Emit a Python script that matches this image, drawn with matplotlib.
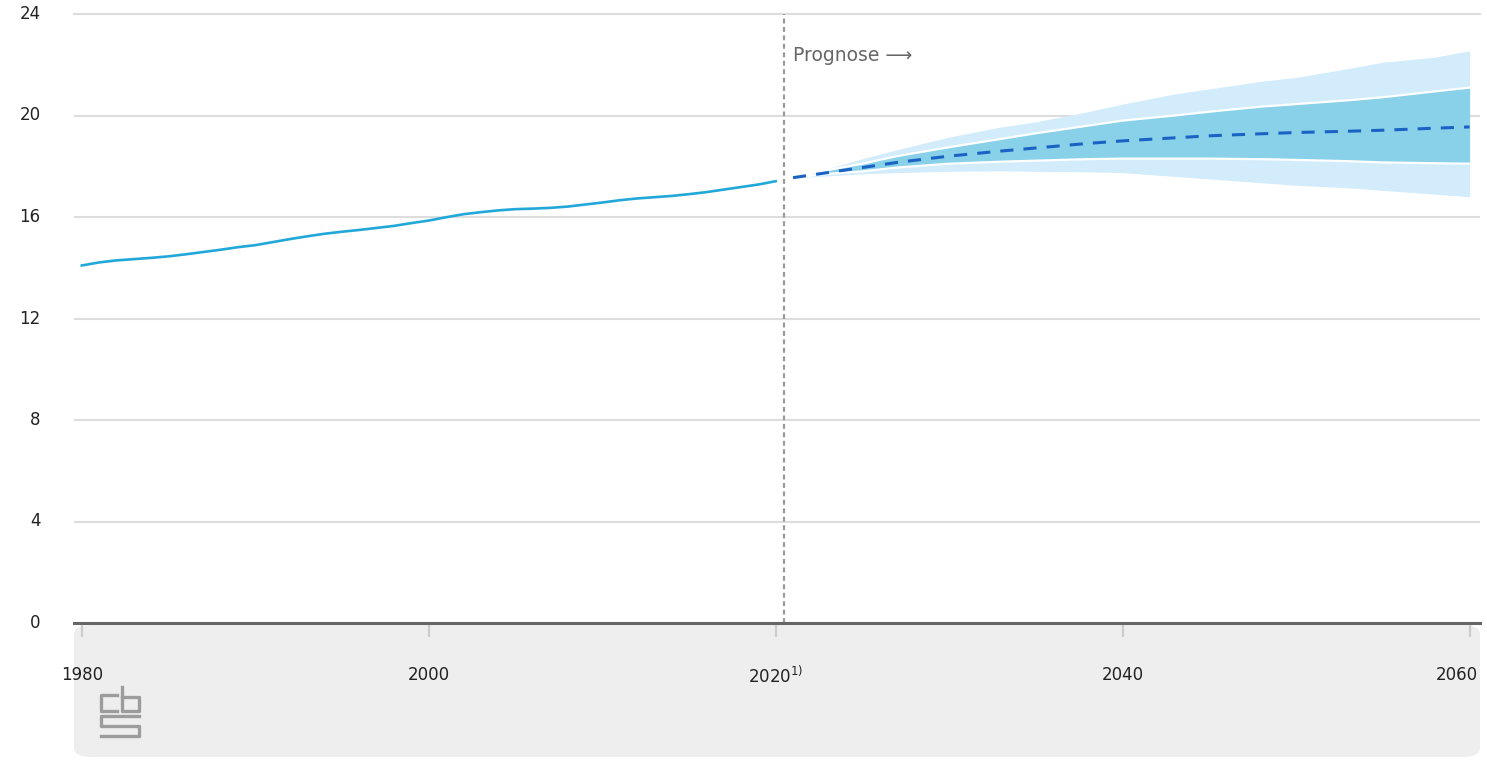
import matplotlib
matplotlib.use("Agg")
import matplotlib.pyplot as plt
from matplotlib.patches import FancyBboxPatch
from matplotlib.transforms import ScaledTranslation

# bevolking (mln), waarneming
jaren = list(range(1980, 2021))
bevolking = [14.09, 14.21, 14.29, 14.34, 14.39, 14.45, 14.53, 14.62, 14.71, 14.81,
             14.89, 15.01, 15.13, 15.24, 15.34, 15.42, 15.49, 15.57, 15.65, 15.76,
             15.86, 15.99, 16.11, 16.19, 16.26, 16.31, 16.33, 16.36, 16.41, 16.49,
             16.57, 16.66, 16.73, 16.78, 16.83, 16.90, 16.98, 17.08, 17.18, 17.28,
             17.41]

# prognose met onzekerheidsmarges
prog_jaren = [2021, 2023, 2025, 2027, 2030, 2033, 2035, 2038, 2040,
              2043, 2045, 2048, 2050, 2053, 2055, 2058, 2060]
prog_mediaan = [17.55, 17.75, 17.95, 18.15, 18.40, 18.60, 18.72, 18.90, 19.00,
                19.12, 19.20, 19.28, 19.33, 19.38, 19.42, 19.50, 19.55]
binnen_boven = [17.55, 17.85, 18.10, 18.40, 18.75, 19.08, 19.30, 19.60, 19.80,
                20.00, 20.15, 20.35, 20.45, 20.60, 20.72, 20.95, 21.10]
binnen_onder = [17.55, 17.70, 17.80, 17.95, 18.10, 18.18, 18.22, 18.28, 18.30,
                18.30, 18.30, 18.28, 18.25, 18.20, 18.15, 18.12, 18.10]
buiten_boven = [17.55, 17.90, 18.30, 18.65, 19.15, 19.55, 19.75, 20.15, 20.45,
                20.85, 21.05, 21.35, 21.50, 21.85, 22.10, 22.30, 22.55]
buiten_onder = [17.55, 17.62, 17.70, 17.75, 17.80, 17.82, 17.80, 17.78, 17.75,
                17.60, 17.50, 17.35, 17.25, 17.15, 17.05, 16.90, 16.80]

x_ticks = [1980, 2000, 2020, 2040, 2060]
x_labels = ["1980", "2000", r"2020$^{1)}$", "2040", "2060"]
y_ticks = [0, 4, 8, 12, 16, 20, 24]

W, H = 1487, 760
fig = plt.figure(figsize=(W / 100, H / 100), dpi=100)
fig.patch.set_facecolor("white")

# grijze balk onder de grafiek
bg = FancyBboxPatch((74 / W, 3 / H), (1480 - 74) / W, (760 - 625 - 3) / H,
                    boxstyle="round,pad=0,rounding_size=0.012",
                    transform=fig.transFigure, facecolor="#eeeeee",
                    edgecolor="none", zorder=-10)
fig.patches.append(bg)

ax = fig.add_axes([74 / W, 1 - 623 / H, (1480 - 74) / W, (623 - 14) / H])
ax.set_facecolor("none")

# banden
ax.fill_between(prog_jaren, buiten_onder, buiten_boven, color="#d2ecfb", lw=0, zorder=2)
ax.fill_between(prog_jaren, binnen_onder, binnen_boven, color="#89d1e9", lw=0, zorder=3)
ax.plot(prog_jaren, binnen_boven, color="white", lw=1.6, zorder=4)
ax.plot(prog_jaren, binnen_onder, color="white", lw=1.6, zorder=4)

ax.plot(prog_jaren, prog_mediaan, color="#1a63c4", lw=2.2,
        linestyle=(0, (4.3, 3.3)), zorder=5)
ax.plot(jaren, bevolking, color="#22a8d8", lw=1.9, zorder=5)

# scheiding waarneming / prognose
ax.axvline(2020.47, color="#9a9a9a", lw=1.6, linestyle=(0, (2.2, 1.6)), zorder=6)
ax.text(2021.0, 22.35, "Prognose \u27f6", color="#666666", fontsize=13.5,
        va="center", ha="left")

ax.set_xlim(1979.55, 2060.6)
ax.set_ylim(0, 24)
ax.set_yticks(y_ticks)
ax.set_xticks(x_ticks)
ax.set_xticklabels(x_labels)

ax.grid(axis="y", color="#dddddd", lw=1.5)
ax.set_axisbelow(True)
for s in ["top", "right", "left"]:
    ax.spines[s].set_visible(False)
ax.spines["bottom"].set_color("#666666")
ax.spines["bottom"].set_linewidth(2.2)
ax.spines["bottom"].set_zorder(7)

ax.tick_params(axis="y", length=0, pad=24, labelsize=12, labelcolor="#222222")
ax.tick_params(axis="x", length=10, width=1.6, color="#cccccc", pad=21,
               labelsize=12, labelcolor="#222222")
for t in ax.get_yticklabels():
    t.set_verticalalignment("center")
ax.yaxis.get_major_ticks()[-1].gridline.set_clip_on(False)

# laatste jaartal rechts uitlijnen zodat het binnen beeld blijft
last = ax.get_xticklabels()[-1]
last.set_horizontalalignment("right")
last.set_transform(last.get_transform() + ScaledTranslation(8 / 100, 0, fig.dpi_scale_trans))

# cbs-logo
lg = fig.add_axes([98 / W, 1 - 740 / H, 44 / W, 56 / H])
lg.set_xlim(98, 142)
lg.set_ylim(740, 684)
lg.axis("off")
kl = "#9c9c9c"
lg.plot([117, 101, 101, 117], [695, 695, 711, 711], color=kl, lw=2.4)
lg.plot([122, 122, 139, 139, 122], [687, 711, 711, 697, 697], color=kl, lw=2.4)
lg.plot([139, 101, 101, 139, 139, 101], [716, 716, 726, 726, 736, 736], color=kl, lw=2.4)

fig.savefig("out.png", dpi=100)
